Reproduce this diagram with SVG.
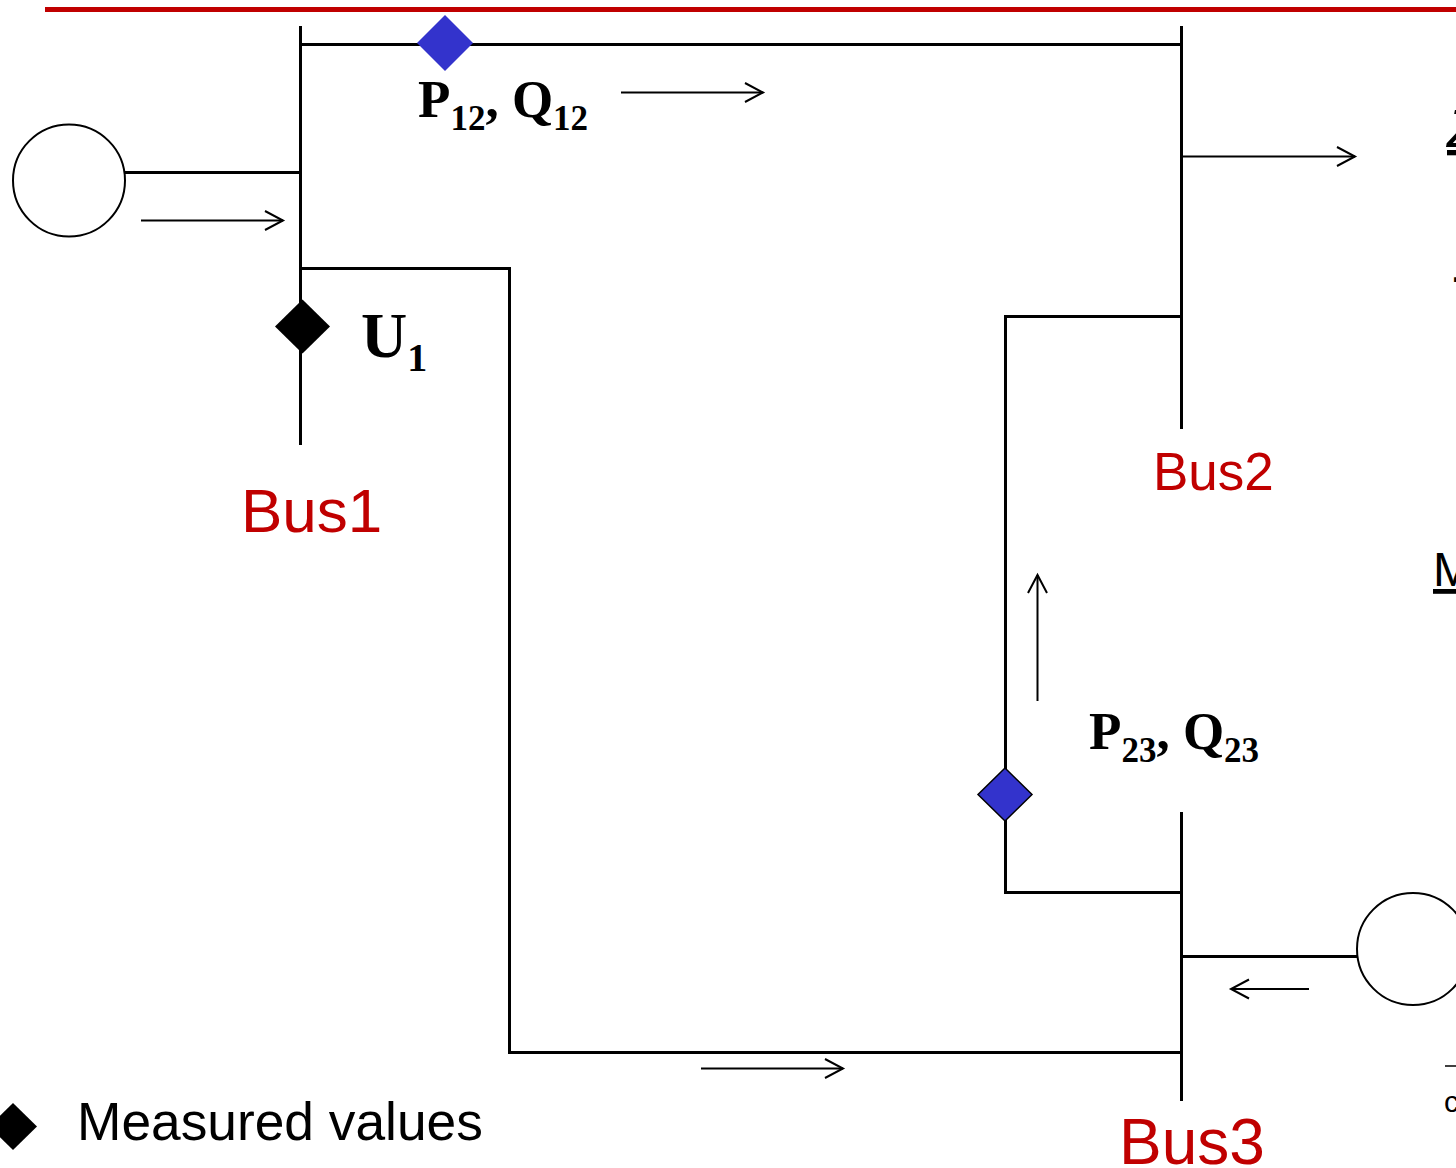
<svg xmlns="http://www.w3.org/2000/svg" width="1456" height="1168" viewBox="0 0 1456 1168">
<style>
.w{fill:none;stroke:#000;stroke-width:3}
.a{fill:none;stroke:#000;stroke-width:2}
.bus{font-family:"Liberation Sans",Arial,sans-serif;fill:#c00000}
.t{font-family:"Liberation Serif","Times New Roman",serif;font-weight:bold;fill:#000}
.s{font-family:"Liberation Sans",Arial,sans-serif;fill:#000}
</style>
<defs>
<marker id="o" markerUnits="userSpaceOnUse" markerWidth="24" markerHeight="24" refX="20" refY="12" orient="auto"><path d="M2 2.500L20 12L2 21.500" class="a"/></marker>
</defs>
<rect width="1456" height="1168" fill="#fff"/>
<line x1="45" y1="9.500" x2="1456" y2="9.500" stroke="#c00000" stroke-width="5"/>
<g id="connectors">
<path class="w" d="M300.500 26V445M300.500 44.500H1181.500M125 172.500H300.500M300.500 268.500H509.500V1052.500H1181.500M1181.500 26V429M1181.500 316.500H1005.500V892.500H1181.500M1181.500 812V1101M1181.500 956.500H1357"/>
<g class="a">
<line x1="621" y1="92.500" x2="763" y2="92.500" marker-end="url(#o)"/>
<line x1="141" y1="220.500" x2="283" y2="220.500" marker-end="url(#o)"/>
<line x1="1182" y1="156.500" x2="1355" y2="156.500" marker-end="url(#o)"/>
<line x1="1037.500" y1="701" x2="1037.500" y2="575" marker-end="url(#o)"/>
<line x1="1309" y1="989" x2="1231" y2="989" marker-end="url(#o)"/>
<line x1="701" y1="1068.500" x2="843" y2="1068.500" marker-end="url(#o)"/>
</g>
</g>
<g id="gen1"><circle cx="69" cy="180.500" r="56" fill="#fff" stroke="#000" stroke-width="2"/></g>
<g id="gen3"><circle cx="1413" cy="949" r="56" fill="#fff" stroke="#000" stroke-width="2"/></g>
<g id="m12"><path d="M445 15L473 43L445 71L417 43Z" fill="#3333cc"/></g>
<g id="m23"><path d="M1005 768L1032 794.500L1005 821L978 794.500Z" fill="#3333cc" stroke="#000" stroke-width="1.500"/></g>
<g id="u1m"><path d="M302.500 299.500L330 326.500L302.500 353.500L275 326.500Z" fill="#000"/></g>
<g id="legendm"><path d="M13 1103L37 1126.500L13 1150L-11 1126.500Z" fill="#000"/></g>
<g id="bus1"><text class="bus" x="241" y="532" font-size="62">Bus1</text></g>
<g id="bus2"><text class="bus" x="1153" y="490" font-size="53">Bus2</text></g>
<g id="bus3"><text class="bus" x="1119" y="1164" font-size="64">Bus3</text></g>
<g id="l12"><text class="t" x="418" y="116.500" font-size="53">P<tspan font-size="35" dy="13.500">12</tspan><tspan dy="-13.500">, Q</tspan><tspan font-size="35" dy="13.500">12</tspan></text></g>
<g id="l23"><text class="t" x="1089" y="748.500" font-size="53">P<tspan font-size="35" dy="13.500">23</tspan><tspan dy="-13.500">, Q</tspan><tspan font-size="35" dy="13.500">23</tspan></text></g>
<g id="lu1"><text class="t" x="361" y="356.500" font-size="64">U<tspan font-size="40" dy="14">1</tspan></text></g>
<g id="legend"><text class="s" x="77" y="1139.500" font-size="53.300">Measured values</text></g>
<g id="clipped">
<text class="s" x="1447" y="147" font-size="53" font-style="italic" text-decoration="underline">Z</text>
<text class="s" x="1452.500" y="290" font-size="40" font-weight="bold">-</text>
<text class="s" x="1433" y="586" font-size="48" text-decoration="underline">M</text>
<line x1="1445" y1="1066" x2="1456" y2="1066" stroke="#000" stroke-width="1.500"/>
<text class="s" x="1444" y="1112" font-size="30">c</text>
</g>
</svg>
